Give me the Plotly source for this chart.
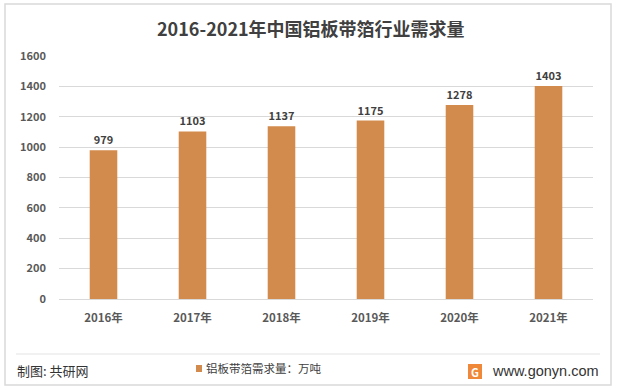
import plotly.graph_objects as go

categories = ["2016年", "2017年", "2018年", "2019年", "2020年", "2021年"]
values = [979, 1103, 1137, 1175, 1278, 1403]
y_ticks = [0, 200, 400, 600, 800, 1000, 1200, 1400, 1600]

BAR = "#D38B4D"
FONT = "Noto Sans CJK SC"
W, H = 617, 390
L, R, T, B = 59, 593, 56, 299

fig = go.Figure()
fig.add_trace(go.Bar(
    x=categories, y=values, marker_color=BAR, marker_line_width=0,
    text=[str(v) for v in values], textposition="outside",
    textfont=dict(family=FONT, size=11, color="#404040", weight="bold"),
    cliponaxis=False, showlegend=False,
))

def px(x): return (x - L) / (R - L)
def py(y): return (B - y) / (B - T)

shapes = [
    dict(type="rect", xref="paper", yref="paper", x0=px(5), x1=px(611), y0=py(385), y1=py(4),
         line=dict(color="#d9d9d9", width=1.5), layer="below"),
    dict(type="line", xref="paper", yref="paper", x0=px(16), x1=px(600), y0=py(354), y1=py(354),
         line=dict(color="#e3e3e3", width=1)),
    dict(type="rect", xref="paper", yref="paper", x0=px(196), x1=px(202), y0=py(372), y1=py(365),
         fillcolor=BAR, line_width=0),
    dict(type="rect", xref="paper", yref="paper", x0=px(468), x1=px(482), y0=py(379), y1=py(364),
         fillcolor="#F0883A", line_width=0),
]
annotations = [
    dict(text="2016-2021年中国铝板带箔行业需求量", xref="paper", yref="paper", x=px(311), y=py(28),
         xanchor="center", yanchor="middle", showarrow=False,
         font=dict(family=FONT, size=18, color="#404040", weight="bold")),
    dict(text="制图: 共研网", xref="paper", yref="paper", x=px(15), y=py(370),
         xanchor="left", yanchor="middle", showarrow=False,
         font=dict(family=FONT, size=13, color="#333333")),
    dict(text="铝板带箔需求量：万吨", xref="paper", yref="paper", x=px(204), y=py(368),
         xanchor="left", yanchor="middle", showarrow=False,
         font=dict(family=FONT, size=11.5, color="#404040")),
    dict(text="G", xref="paper", yref="paper", x=px(475), y=py(371.5),
         xanchor="center", yanchor="middle", showarrow=False,
         font=dict(family=FONT, size=11, color="white", weight="bold")),
    dict(text="www.gonyn.com", xref="paper", yref="paper", x=px(601), y=py(371),
         xanchor="right", yanchor="middle", showarrow=False,
         font=dict(family="Liberation Sans", size=14.5, color="#333333")),
]

fig.update_layout(
    width=W, height=H, autosize=False,
    margin=dict(l=L, r=W - R, t=T, b=H - B, autoexpand=False),
    paper_bgcolor="white", plot_bgcolor="white",
    bargap=0.69,
    shapes=shapes, annotations=annotations,
    xaxis=dict(tickfont=dict(family=FONT, size=11.5, color="#595959", weight="bold"),
               showline=True, linecolor="#d9d9d9", linewidth=1, ticks="", fixedrange=True,
               ticklabelstandoff=8, automargin=False),
    yaxis=dict(range=[0, 1600], tickvals=y_ticks, showgrid=True, gridcolor="#d9d9d9", gridwidth=1,
               zeroline=False, showline=False, ticks="", automargin=False, fixedrange=True,
               tickfont=dict(family=FONT, size=11, color="#595959", weight="bold"),
               ticklabelstandoff=12),
    font=dict(family=FONT),
)

fig.write_html("out.html", config={"displayModeBar": False},
               post_script="document.body.style.margin='0';document.body.style.overflow='hidden';")
